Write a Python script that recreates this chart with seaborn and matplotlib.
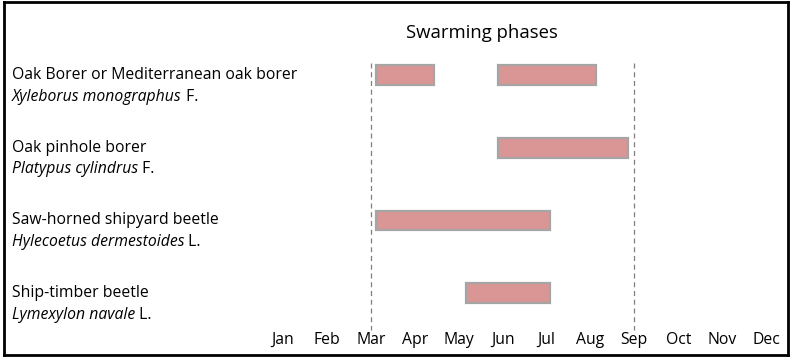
import matplotlib
matplotlib.use("Agg")
import matplotlib.pyplot as plt
import seaborn as sns

sns.set_theme(style="white")
plt.rcParams['font.family'] = ['Open Sans', 'DejaVu Sans']

# data
common_names = ["Oak Borer or Mediterranean oak borer", "Oak pinhole borer",
                "Saw-horned shipyard beetle", "Ship-timber beetle"]
species = ["Xyleborus monographus", "Platypus cylindrus",
           "Hylecoetus dermestoides", "Lymexylon navale"]
authors = ["F.", "F.", "L.", "L."]
# swarming periods as (start, end) in month units, Jan = 1
periods = [
    [(3.12, 4.44), (5.90, 8.13)],
    [(5.90, 8.86)],
    [(3.12, 7.08)],
    [(5.17, 7.08)],
]
months = ["Jan", "Feb", "Mar", "Apr", "May", "Jun", "Jul", "Aug",
          "Sep", "Oct", "Nov", "Dec"]
marker_months = [3, 9]

fs = 11.3

fig = plt.figure(figsize=(8, 3.64), dpi=100)
ax = fig.add_axes([4 / 800, 1 - 355 / 364, 784 / 800, 353 / 364])

for i, spans in enumerate(periods):
    for start, end in spans:
        ax.barh(i, end - start, left=start, height=0.27,
                color="#d99694", edgecolor="#a5a5a5", linewidth=1.6)

ax.vlines(marker_months, -0.165, 3.51, colors="#7f7f7f",
          linestyles=(0, (4, 3)), linewidth=0.9)

ax.set_xlim(-5.355, 12.50)
ax.set_ylim(3.853, -1.005)
ax.set_xticks([])
ax.set_yticks([])
for s in ax.spines.values():
    s.set_visible(True)
    s.set_color("black")
    s.set_linewidth(2)

trans = matplotlib.transforms.blended_transform_factory(ax.transAxes, ax.transData)
for i in range(len(common_names)):
    ax.text(0.0102, i, common_names[i], transform=trans, ha="left", va="center",
            fontsize=fs, color="black")
    t = ax.text(0.0102, i + 0.30, species[i], transform=trans, ha="left",
                va="center", fontsize=fs, style="italic", color="black")
    ax.annotate(" " + authors[i], xy=(1, 0.5), xycoords=t, ha="left",
                va="center", fontsize=fs, color="black")

for m, name in enumerate(months, start=1):
    ax.text(m, 3.65, name, ha="center", va="center", fontsize=fs, color="black")

ax.text(5.53, -0.578, "Swarming phases", ha="center", va="center",
        fontsize=13.3, color="black")

fig.savefig("out.png", dpi=100)
plt.close()
